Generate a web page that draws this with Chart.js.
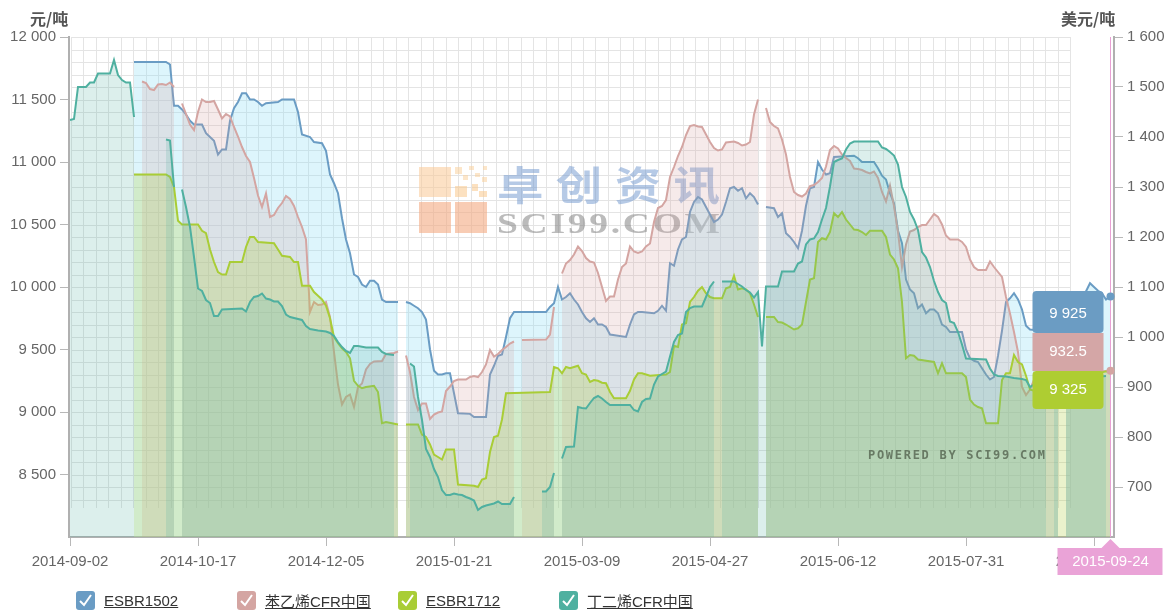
<!DOCTYPE html>
<html>
<head>
<meta charset="utf-8">
<script src="https://cdn.jsdelivr.net/npm/chart.js@4.4.1/dist/chart.umd.min.js"></script>
<style>
  html, body { margin: 0; padding: 0; background: #fff; }
  #wrap { position: relative; width: 1174px; height: 614px; font-family: "Liberation Sans", Arial, "Noto Sans CJK SC", sans-serif; }
  #chart { position: absolute; left: 0; top: 0; }
  .unit { position: absolute; top: 6px; font-size: 16px; font-weight: bold; color: #555; font-family: "Noto Sans CJK SC", "Liberation Sans", sans-serif; }
  .item { position: absolute; top: 591px; height: 19px; display: flex; align-items: center; white-space: nowrap; }
  .box { width: 19px; height: 19px; border-radius: 3px; display: flex; align-items: center; justify-content: center; }
  .lbl { margin-left: 9px; font-size: 15px; color: #333; text-decoration: underline; font-family: "Liberation Sans", Arial, "Noto Sans CJK SC", sans-serif; }
</style>
</head>
<body>
<div id="wrap">
  <canvas id="chart" width="1174" height="614"></canvas>
  <div class="unit" style="left:30px">元/吨</div>
  <div class="unit" style="left:1061px">美元/吨</div>
  <div id="legend"></div>
</div>
<script>
// x positions are trading-day indexes, one label every 32 days
const xTickIdx = [0, 32, 64, 96, 128, 160, 192, 224, 256];
const xTickLabels = ['2014-09-02', '2014-10-17', '2014-12-05', '2015-01-21', '2015-03-09',
                     '2015-04-27', '2015-06-12', '2015-07-31', '2015-09-18'];
const leftTicks = [8500, 9000, 9500, 10000, 10500, 11000, 11500, 12000];
const rightTicks = [700, 800, 900, 1000, 1100, 1200, 1300, 1400, 1500, 1600];
const seriesNames = ['ESBR1502', '苯乙烯CFR中国', 'ESBR1712', '丁二烯CFR中国'];
const lastIdx = 260;
const lastDate = '2015-09-24';

// [day index, value], null = no quote that day
const esbr1502 = [[16,11800],[24,11800],[25,11780],[26,11450],[27,11450],[28,11420],[29,11380],[30,11330],[31,11300],[33,11300],[34,11230],[35,11200],[36,11170],[37,11060],[38,11100],[39,11100],[40,11330],[41,11430],[42,11480],[43,11550],[44,11550],[45,11500],[46,11500],[47,11480],[48,11450],[49,11470],[52,11480],[53,11500],[56,11500],[57,11400],[58,11220],[60,11200],[61,11160],[63,11150],[64,11090],[65,10900],[66,10830],[67,10750],[68,10550],[69,10380],[70,10270],[71,10100],[72,10080],[73,10020],[74,10000],[75,10050],[76,10050],[77,10020],[78,9900],[79,9880],[82,9880],[83,null],[84,9880],[85,9870],[86,9850],[87,9830],[88,9800],[89,9740],[90,9500],[91,9330],[92,9300],[93,9300],[94,9310],[95,9310],[96,9150],[97,8990],[100,8985],[101,8960],[104,8960],[105,9300],[106,9370],[107,9450],[108,9460],[109,9600],[110,9750],[111,9800],[119,9800],[120,9840],[121,9870],[122,10000],[123,9900],[124,9920],[125,9950],[126,9900],[127,9860],[128,9800],[129,9750],[130,9720],[131,9750],[132,9700],[133,9700],[134,9680],[135,9620],[139,9600],[140,9700],[141,9780],[142,9800],[143,9800],[146,9790],[147,9810],[148,9850],[149,9810],[150,10190],[151,10170],[152,10300],[153,10380],[154,10400],[155,10600],[156,10680],[157,10720],[158,10700],[159,10640],[160,10580],[161,10520],[162,10540],[163,10580],[164,10680],[165,10790],[166,10800],[167,10770],[168,10790],[169,10710],[170,10750],[171,10720],[172,10660],[173,null],[174,10640],[176,10630],[177,10560],[178,10590],[179,10430],[180,10400],[181,10360],[182,10310],[183,10450],[184,10650],[185,10790],[186,10800],[187,11000],[188,10940],[189,10900],[190,10910],[191,11040],[196,11050],[197,11030],[198,11000],[201,11000],[202,10950],[203,10890],[204,10860],[205,10750],[206,10670],[207,10450],[208,10350],[209,10060],[210,9980],[211,9950],[212,9830],[213,9860],[214,9790],[215,9820],[216,9820],[217,9790],[218,9700],[219,9680],[220,9640],[223,9640],[224,9500],[225,9430],[226,9410],[227,9400],[228,9350],[229,9300],[230,9260],[231,9280],[232,9450],[233,9650],[234,9880],[235,9910],[236,9950],[237,9900],[238,9820],[239,9690],[240,9660],[243,9650],[247,9700],[248,null],[249,9750],[253,9900],[255,10030],[256,10000],[257,9970],[258,9950],[259,9900],[260,9925]];

const styreneCfr = [[18,1511],[19,1508],[20,1496],[21,1494],[22,1505],[23,1506],[24,1504],[25,1509],[26,1500],[27,null],[28,1467],[29,1446],[30,1425],[31,1414],[32,1450],[33,1475],[34,1470],[35,1470],[36,1472],[37,1455],[38,1437],[39,1446],[40,1441],[41,1420],[42,1401],[43,1380],[44,1362],[45,1350],[46,1318],[47,1283],[48,1260],[49,1287],[50,1240],[51,1244],[52,1258],[53,1268],[54,1282],[55,1276],[56,1262],[57,1240],[58,1220],[59,1195],[60,1050],[61,1070],[62,1064],[63,1065],[64,1070],[65,1040],[66,970],[67,905],[68,865],[69,880],[70,885],[71,860],[72,900],[73,907],[74,935],[75,946],[76,951],[78,952],[79,966],[81,968],[82,971],[83,null],[84,963],[85,930],[86,880],[87,854],[88,867],[89,867],[90,836],[91,845],[92,849],[93,851],[94,892],[95,901],[96,912],[97,915],[99,915],[100,920],[101,922],[102,920],[103,930],[104,945],[105,974],[106,961],[107,966],[108,974],[109,980],[110,987],[111,991],[112,null],[113,994],[119,995],[120,1005],[121,1060],[122,null],[123,1127],[124,1147],[125,1154],[126,1165],[127,1181],[128,1172],[129,1158],[130,1151],[131,1149],[132,1128],[133,1100],[134,1072],[135,1081],[136,1081],[137,1115],[138,1140],[139,1147],[140,1181],[141,1171],[142,1168],[143,1171],[144,1181],[145,1187],[146,1230],[147,1258],[148,1262],[149,1274],[150,1320],[151,1340],[152,1362],[153,1380],[154,1404],[155,1422],[156,1424],[157,1421],[158,1420],[159,1405],[160,1390],[161,1378],[162,1373],[163,1375],[164,1389],[165,1390],[166,1391],[167,1388],[168,1383],[169,1385],[170,1390],[171,1445],[172,1475],[173,null],[174,1458],[175,1430],[176,1422],[177,1417],[178,1395],[179,1365],[180,1320],[181,1290],[182,1284],[183,1281],[184,1287],[185,1302],[186,1304],[187,1310],[188,1318],[189,1341],[190,1374],[191,1382],[192,1377],[193,1365],[194,1358],[195,1352],[196,1337],[197,1336],[198,1334],[199,1330],[200,1327],[201,1331],[202,1318],[203,1290],[204,1271],[205,1303],[206,1262],[207,1210],[208,1140],[209,1185],[210,1211],[211,1214],[212,1220],[213,1224],[214,1224],[215,1235],[216,1246],[217,1240],[218,1225],[219,1203],[220,1195],[222,1195],[223,1190],[224,1180],[225,1155],[226,1140],[227,1134],[229,1134],[230,1151],[231,1140],[232,1130],[233,1120],[234,1080],[235,1047],[236,1010],[237,970],[238,900],[239,884],[240,895],[241,914],[247,920],[248,null],[249,925],[259,932],[260,932.5]];

const esbr1712 = [[16,10900],[24,10900],[25,10880],[26,10800],[27,10530],[28,10500],[32,10500],[33,10450],[34,10430],[35,10300],[36,10200],[37,10120],[38,10100],[39,10100],[40,10200],[43,10200],[44,10320],[45,10400],[46,10400],[47,10360],[51,10350],[52,10300],[53,10250],[55,10240],[56,10200],[57,10200],[58,10010],[60,10010],[61,9960],[62,9930],[63,9900],[64,9850],[65,9750],[66,9600],[67,9550],[68,9510],[69,9480],[70,9430],[71,9250],[72,9210],[73,9190],[74,9200],[76,9210],[77,9160],[78,8910],[79,8920],[82,8900],[83,null],[84,8900],[87,8900],[88,8820],[89,8800],[90,8740],[91,8660],[92,8640],[93,8620],[94,8700],[96,8700],[97,8420],[101,8410],[102,8400],[103,8460],[104,8470],[105,8680],[106,8800],[107,8810],[108,8940],[109,9150],[120,9160],[121,9360],[122,9350],[123,9310],[124,9360],[125,9350],[126,9360],[127,9370],[128,9310],[129,9300],[130,9240],[131,9256],[132,9250],[133,9234],[134,9230],[135,9160],[136,9110],[139,9110],[140,9170],[141,9260],[142,9310],[143,9310],[144,9300],[145,9290],[149,9300],[150,9320],[151,9530],[152,9520],[153,9700],[154,9710],[155,9880],[156,9920],[157,9970],[158,10000],[159,9950],[160,9920],[161,9910],[163,9910],[164,9990],[165,10000],[166,10090],[167,9980],[168,9990],[169,9980],[170,9950],[171,9860],[172,9760],[173,null],[174,9760],[176,9760],[177,9720],[178,9716],[179,9700],[180,9680],[181,9660],[182,9670],[183,9700],[184,9880],[185,10060],[186,10070],[187,10360],[188,10390],[189,10380],[190,10440],[191,10590],[192,10560],[193,10600],[194,10540],[195,10500],[196,10460],[197,10456],[198,10440],[199,10416],[200,10450],[203,10450],[204,10400],[205,10260],[206,10220],[207,10150],[208,9880],[209,9430],[210,9456],[211,9450],[212,9420],[216,9400],[217,9310],[218,9390],[219,9310],[223,9310],[224,9280],[225,9100],[226,9060],[227,9040],[228,9030],[229,8910],[232,8910],[233,9256],[234,9310],[235,9310],[236,9456],[237,9400],[238,9380],[239,9290],[240,9180],[243,9150],[247,9200],[249,9250],[259,9325],[260,9325]];

const butadieneCfr = [[0,1434],[1,1436],[2,1500],[4,1500],[5,1509],[6,1509],[7,1527],[10,1527],[11,1554],[12,1524],[13,1514],[14,1509],[15,1509],[16,1440],[17,null],[24,1395],[25,1393],[26,1300],[27,null],[28,1295],[29,1260],[30,1220],[31,1160],[32,1097],[33,1092],[34,1074],[35,1068],[36,1042],[37,1042],[38,1055],[43,1057],[44,1051],[45,1070],[46,1080],[47,1082],[48,1087],[49,1077],[50,1075],[51,1071],[52,1071],[53,1062],[54,1045],[55,1040],[58,1034],[59,1022],[60,1016],[62,1013],[64,1011],[65,1008],[66,1002],[67,990],[68,980],[69,972],[70,968],[71,982],[72,982],[74,979],[77,979],[78,970],[79,966],[81,964],[82,null],[85,947],[86,941],[87,880],[88,834],[89,776],[90,760],[91,736],[92,720],[93,694],[94,684],[95,684],[96,687],[97,685],[98,684],[99,680],[100,677],[101,673],[102,654],[103,660],[104,663],[105,665],[106,667],[107,671],[108,666],[110,666],[111,680],[112,null],[118,691],[119,691],[120,700],[121,728],[122,null],[123,757],[124,780],[126,781],[127,860],[128,858],[129,857],[130,868],[131,878],[132,882],[133,877],[134,870],[135,864],[140,864],[141,854],[142,851],[143,870],[144,876],[145,877],[146,905],[147,921],[148,926],[149,931],[150,961],[151,990],[152,1004],[153,1007],[154,1050],[155,1058],[156,1061],[158,1061],[159,1080],[160,1100],[161,1111],[162,null],[163,1111],[166,1111],[167,1106],[168,1101],[169,1094],[170,1089],[171,1079],[172,1090],[173,981],[174,1101],[177,1101],[178,1131],[181,1131],[182,1147],[183,1151],[184,1185],[185,1195],[186,1197],[187,1210],[188,1235],[189,1258],[190,1301],[191,1350],[192,1354],[193,1357],[194,1375],[195,1387],[196,1391],[202,1391],[203,1379],[204,1376],[205,1370],[206,1363],[207,1345],[208,1300],[209,1280],[210,1250],[211,1235],[212,1214],[213,1170],[214,1159],[215,1140],[216,1112],[217,1090],[218,1074],[219,1068],[220,1031],[221,1028],[222,1010],[223,985],[224,957],[229,955],[230,937],[231,925],[232,922],[234,921],[236,918],[238,916],[239,914],[240,900],[241,905],[244,910],[245,null],[246,912],[247,912],[248,null],[249,915],[259,922],[260,null]];

const lineColors = ['#6a9cc4', '#d4a5a2', '#a9cd36', '#4fb0a0'];
const fillColors = ['rgba(150,225,245,0.32)', 'rgba(212,160,160,0.22)', 'rgba(170,205,50,0.25)', 'rgba(80,175,160,0.2)'];
const boxColors = ['#6b9cc3', '#d4a6a6', '#aecd32'];

const fmt = v => String(v).replace(/\B(?=(\d{3})+(?!\d))/g, ' ');
const toXY = arr => arr.map(p => ({ x: p[0], y: p[1] }));
const FONT = '"Liberation Sans", Arial, sans-serif';

// legend
const legendX = [76, 237, 398, 559];
const legend = document.getElementById('legend');
seriesNames.forEach((name, i) => {
  const el = document.createElement('div');
  el.className = 'item';
  el.style.left = legendX[i] + 'px';
  el.innerHTML = '<div class="box" style="background:' + lineColors[i] + '">' +
    '<svg width="15" height="15" viewBox="0 0 15 15"><path d="M2 8 L6 12 L13 2" fill="none" stroke="#fff" stroke-width="2"/></svg></div>' +
    '<span class="lbl">' + name + '</span>';
  legend.appendChild(el);
});

function spaced(ctx, text, x0, x1, y, sx) {
  const chars = [...text];
  const w = chars.map(c => ctx.measureText(c).width * sx);
  const total = w.reduce((a, b) => a + b, 0);
  const gap = (x1 - x0 - total) / (chars.length - 1);
  let x = x0;
  chars.forEach((c, i) => {
    ctx.save();
    ctx.translate(x, y);
    ctx.scale(sx, 1);
    ctx.fillText(c, 0, 0);
    ctx.restore();
    x += w[i] + gap;
  });
}

// background grid and watermark
const backdrop = {
  id: 'backdrop',
  beforeDatasetsDraw(chart) {
    const ctx = chart.ctx, a = chart.chartArea;
    const gx0 = a.left + 2, gx1 = a.left + 1001, gy0 = a.top, gy1 = a.top + 471;
    ctx.save();
    ctx.strokeStyle = '#e4e4e4';
    ctx.lineWidth = 1;
    ctx.beginPath();
    for (let k = 0; k <= 80; k++) {
      const x = Math.round(gx0 + k * (gx1 - gx0) / 80) + 0.5;
      ctx.moveTo(x, gy0); ctx.lineTo(x, gy1);
    }
    for (let k = 0; k <= 37; k++) {
      const y = Math.round(gy0 + k * 12.5) + 0.5;
      ctx.moveTo(gx0, y); ctx.lineTo(gx1, y);
    }
    ctx.stroke();

    // logo squares
    const sq = [
      [419, 167, 32, 30, 'rgba(250,200,150,0.55)'],
      [419, 202, 32, 31, 'rgba(244,170,130,0.6)'],
      [455, 202, 32, 31, 'rgba(244,170,130,0.6)'],
      [455, 167, 7, 7, 'rgba(250,205,150,0.5)'],
      [469, 166, 5, 4, 'rgba(250,205,150,0.5)'],
      [483, 166, 4, 4, 'rgba(250,205,150,0.5)'],
      [463, 175, 5, 5, 'rgba(250,205,150,0.5)'],
      [475, 173, 5, 4, 'rgba(250,205,150,0.5)'],
      [482, 177, 5, 5, 'rgba(250,205,150,0.5)'],
      [455, 186, 12, 11, 'rgba(250,200,140,0.55)'],
      [472, 184, 6, 7, 'rgba(250,200,140,0.55)'],
      [479, 191, 8, 6, 'rgba(250,200,140,0.55)']
    ];
    sq.forEach(s => { ctx.fillStyle = s[4]; ctx.fillRect(s[0], s[1], s[2], s[3]); });

    ctx.textBaseline = 'middle';
    ctx.fillStyle = 'rgba(110,150,205,0.5)';
    ctx.font = 'bold 40px "Noto Sans CJK SC"';
    spaced(ctx, '卓创资讯', 497, 720, 185, 1.16);
    ctx.fillStyle = 'rgba(120,120,120,0.5)';
    ctx.font = 'bold 30px "Liberation Serif", "DejaVu Serif", serif';
    spaced(ctx, 'SCI99.COM', 497, 720, 225, 1.25);
    ctx.restore();
  },
  afterDatasetsDraw(chart) {
    const ctx = chart.ctx;
    ctx.save();
    ctx.fillStyle = 'rgba(85,100,80,0.8)';
    ctx.font = 'bold 12px "DejaVu Sans Mono", monospace';
    ctx.textBaseline = 'middle';
    spaced(ctx, 'POWERED BY SCI99.COM', 868, 1045, 456, 1);
    ctx.restore();
  }
};

// hover state at the last day: crosshair, markers, split tooltip, date flag
const hover = {
  id: 'hover',
  afterDraw(chart) {
    const ctx = chart.ctx, a = chart.chartArea;
    const xs = chart.scales.x, yL = chart.scales.yL, yR = chart.scales.yR;
    const px = Math.round(xs.getPixelForValue(lastIdx)) + 0.5;
    const last = arr => arr[arr.length - 1][1];
    ctx.save();
    ctx.strokeStyle = '#e9a0d4';
    ctx.lineWidth = 1;
    ctx.beginPath(); ctx.moveTo(px, a.top); ctx.lineTo(px, a.bottom); ctx.stroke();

    const pts = [
      [yL.getPixelForValue(last(esbr1502)), lineColors[0]],
      [yR.getPixelForValue(last(styreneCfr)), lineColors[1]]
    ];
    pts.forEach(p => {
      ctx.fillStyle = p[1];
      ctx.beginPath(); ctx.arc(px, p[0], 4, 0, Math.PI * 2); ctx.fill();
    });

    const bx = px - 78, bw = 71;
    const boxes = [
      [291, 42, fmt(last(esbr1502)), boxColors[0]],
      [371, 38, fmt(last(esbr1712)), boxColors[2]],
      [333, 38, String(last(styreneCfr)), boxColors[1]]
    ];
    ctx.font = '15px ' + FONT;
    ctx.textAlign = 'center';
    ctx.textBaseline = 'middle';
    boxes.forEach((b, i) => {
      ctx.fillStyle = b[3];
      ctx.beginPath();
      if (i < 2) ctx.roundRect(bx, b[0], bw, b[1], 4); else ctx.rect(bx, b[0], bw, b[1]);
      ctx.fill();
    });
    boxes.forEach(b => {
      ctx.fillStyle = '#fff';
      ctx.fillText(b[2], bx + bw / 2, b[0] + b[1] / 2 + (b === boxes[0] ? 2 : 0));
    });

    // date flag under the axis
    const fy = a.bottom + 11;
    ctx.fillStyle = '#eaa3d7';
    ctx.beginPath();
    ctx.moveTo(px - 9, fy); ctx.lineTo(px, fy - 9); ctx.lineTo(px + 9, fy);
    ctx.closePath(); ctx.fill();
    ctx.fillRect(px - 53, fy, 105, 27);
    ctx.fillStyle = '#fff';
    ctx.fillText(lastDate, px, fy + 14);
    ctx.restore();
  }
};

const common = { borderWidth: 2, pointRadius: 0, pointHoverRadius: 0, tension: 0, spanGaps: false, fill: 'start' };
const sources = [esbr1502, styreneCfr, esbr1712, butadieneCfr];
const axes = ['yL', 'yR', 'yL', 'yR'];

new Chart(document.getElementById('chart'), {
  type: 'line',
  data: {
    datasets: sources.map((src, i) => Object.assign({
      label: seriesNames[i],
      data: toXY(src),
      yAxisID: axes[i],
      borderColor: lineColors[i],
      backgroundColor: fillColors[i],
      order: 4 - i
    }, common))
  },
  options: {
    responsive: false,
    animation: false,
    events: [],
    layout: { padding: { top: 37, left: 0, right: 0, bottom: 0 } },
    plugins: { legend: { display: false }, tooltip: { enabled: false } },
    scales: {
      x: {
        type: 'linear', min: -0.25, max: 261,
        afterBuildTicks: s => { s.ticks = xTickIdx.map(v => ({ value: v })); },
        afterFit: s => { s.height = 77; },
        ticks: {
          autoSkip: false, maxRotation: 0, padding: 7, color: '#666',
          font: { size: 15, family: FONT },
          callback: v => xTickLabels[xTickIdx.indexOf(v)] || ''
        },
        grid: { drawOnChartArea: false, drawTicks: true, tickLength: 9, color: '#b8b8b8' },
        border: { color: '#b0b0b0', width: 2 }
      },
      yL: {
        position: 'left', min: 8000, max: 12000,
        afterBuildTicks: s => { s.ticks = leftTicks.map(v => ({ value: v })); },
        afterFit: s => { s.width = 69; },
        ticks: { padding: 4, color: '#666', font: { size: 15, family: FONT }, callback: v => fmt(v) },
        grid: { drawOnChartArea: false, drawTicks: true, tickLength: 9, color: '#b8b8b8' },
        border: { color: '#b0b0b0', width: 2 }
      },
      yR: {
        position: 'right', min: 600, max: 1600,
        afterBuildTicks: s => { s.ticks = rightTicks.map(v => ({ value: v })); },
        afterFit: s => { s.width = 60; },
        ticks: { padding: 4, color: '#666', font: { size: 15, family: FONT }, callback: v => fmt(v) },
        grid: { drawOnChartArea: false, drawTicks: true, tickLength: 9, color: '#b8b8b8' },
        border: { color: '#b0b0b0', width: 2 }
      }
    }
  },
  plugins: [backdrop, hover]
});
</script>
</body>
</html>
